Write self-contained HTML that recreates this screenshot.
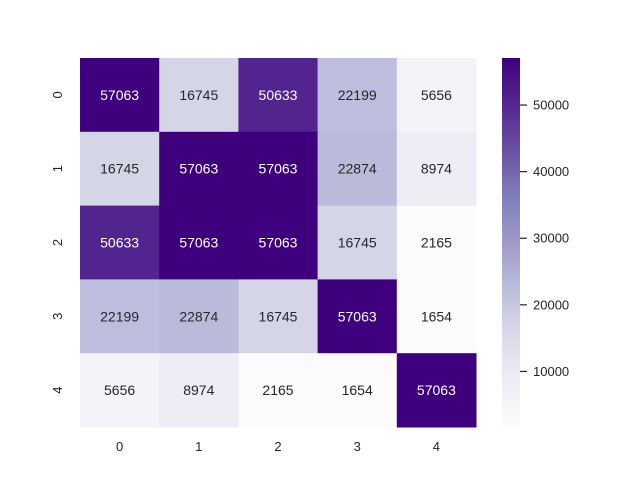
<!DOCTYPE html>
<html><head><meta charset="utf-8"><style>
body{margin:0;background:#fff;font-family:"Liberation Sans",Arial,sans-serif;}
</style></head><body>
<svg id="chart" width="640" height="480" xmlns="http://www.w3.org/2000/svg">
<defs><linearGradient id="cbg" x1="0" y1="1" x2="0" y2="0">
<stop offset="0" stop-color="#fcfbfd"/><stop offset="0.125" stop-color="#efedf5"/><stop offset="0.25" stop-color="#dadaeb"/><stop offset="0.375" stop-color="#bcbddc"/><stop offset="0.5" stop-color="#9e9ac8"/><stop offset="0.625" stop-color="#807dba"/><stop offset="0.75" stop-color="#6a51a3"/><stop offset="0.875" stop-color="#54278f"/><stop offset="1" stop-color="#3f007d"/>
</linearGradient></defs>
<g id="cells"></g>
<g id="axes"></g>
<rect x="502" y="58" width="18" height="369" fill="url(#cbg)"/>
<g id="cbar"></g>
</svg>
<script>
const rowLabels=["0","1","2","3","4"];
const colLabels=["0","1","2","3","4"];
const values=[
[57063,16745,50633,22199,5656],
[16745,57063,57063,22874,8974],
[50633,57063,57063,16745,2165],
[22199,22874,16745,57063,1654],
[5656,8974,2165,1654,57063]];
const cbarTicks=[10000,20000,30000,40000,50000];
const vmin=1654,vmax=57063;
const X0=80,X1=476,Y0=58,Y1=427;
const stops=["#fcfbfd","#efedf5","#dadaeb","#bcbddc","#9e9ac8","#807dba","#6a51a3","#54278f","#3f007d"].map(h=>[1,3,5].map(i=>parseInt(h.substr(i,2),16)));
function cmap(v){let t=(v-vmin)/(vmax-vmin);t=Math.max(0,Math.min(1,t))*(stops.length-1);const i=Math.min(Math.floor(t),stops.length-2),f=t-i;
return stops[i].map((c,k)=>Math.round(c+(stops[i+1][k]-c)*f));}
const NS="http://www.w3.org/2000/svg";
function mk(tag,attrs,parent){const e=document.createElementNS(NS,tag);for(const k in attrs)e.setAttribute(k,attrs[k]);parent.appendChild(e);return e;}
const nr=rowLabels.length,nc=colLabels.length,cw=(X1-X0)/nc,ch=(Y1-Y0)/nr;
const cells=document.getElementById('cells'),axes=document.getElementById('axes'),cb=document.getElementById('cbar');
for(let r=0;r<nr;r++)for(let c=0;c<nc;c++){
 const v=values[r][c],rgb=cmap(v);
 const rect=mk('rect',{x:X0+c*cw,y:Y0+r*ch,width:cw+0.5,height:ch+0.5,fill:`rgb(${rgb})`},cells);
 
 
 const lum=(0.2126*rgb[0]+0.7152*rgb[1]+0.0722*rgb[2])/255;
 const t=mk('text',{x:X0+(c+0.5)*cw,y:Y0+(r+0.5)*ch+5,'text-anchor':'middle','font-size':'14',fill:lum<0.408?'#ffffff':'#262626'},cells);
 t.textContent=v;
 
 
}
colLabels.forEach((l,i)=>{const x=X0+(i+0.5)*cw;
 const t=mk('text',{x:x,y:451,'text-anchor':'middle','font-size':'13',fill:'#262626'},axes);t.textContent=l;
 
 });
rowLabels.forEach((l,i)=>{const y=Y0+(i+0.5)*ch;
 const t=mk('text',{x:0,y:0,transform:`translate(62,${y}) rotate(-90)`,'text-anchor':'middle','font-size':'13',fill:'#262626'},axes);t.textContent=l;
 
 });
cbarTicks.forEach(v=>{const y=Y1-(v-vmin)/(vmax-vmin)*(Y1-Y0);
 const ln=mk('line',{x1:520,x2:527,y1:y,y2:y,stroke:'#262626','stroke-width':1.2},cb);
 
 
 const t=mk('text',{x:533,y:y+4.5,'font-size':'13',fill:'#262626'},cb);t.textContent=v;
 
 });
</script>
</body></html>
